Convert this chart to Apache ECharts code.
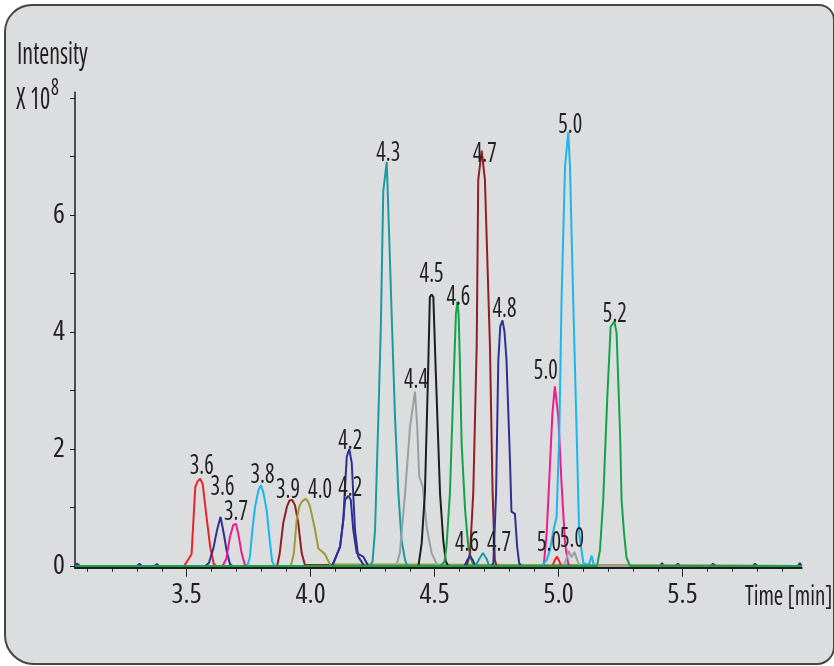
<!DOCTYPE html>
<html>
<head>
<meta charset="utf-8">
<script src="https://cdn.jsdelivr.net/npm/echarts@6/dist/echarts.min.js"></script>
<style>
  html, body { margin: 0; padding: 0; background: #ffffff; }
  #wrap { position: relative; width: 834px; height: 666px; overflow: hidden; }
  #frame {
    position: absolute; left: 4px; top: 4px; width: 831px; height: 661px;
    box-sizing: border-box; border: 2px solid #454545;
    border-radius: 28px 16px 18px 30px; background: #dcdddf;
  }
  #chart { position: absolute; left: 0; top: 0; width: 834px; height: 666px; }
</style>
</head>
<body>
<div id="wrap"><div id="frame"></div><div id="chart"></div></div>
<script>
// Axis ranges: retention time (min) and intensity (x 10^8)
const timeRange = [3.05, 5.98];
const intensityRange = [-0.03, 8.1];
const timeLabels = [3.5, 4.0, 4.5, 5.0, 5.5];
const timeTicks = [3.1, 3.2, 3.3, 3.4, 3.5, 3.6, 3.7, 3.8, 3.9, 4.0, 4.1, 4.2, 4.3, 4.4,
                   4.5, 4.6, 4.7, 4.8, 4.9, 5.0, 5.1, 5.2, 5.3, 5.4, 5.5, 5.6, 5.7, 5.8, 5.9];
const intensityTicks = [0, 1, 2, 3, 4, 5, 6, 7, 8];
const intensityLabels = [0, 2, 4, 6];

// Extracted ion chromatograms, [time, intensity] points
const baselineNoise = [[3.05,0],[3.058,0.04],[3.07,0],[3.30,0],[3.31,0.04],[3.32,0],[3.372,0],[3.38,0.035],[3.388,0],
  [5.41,0],[5.417,0.05],[5.425,0],[5.474,0],[5.481,0.04],[5.488,0],[5.612,0],[5.623,0.035],[5.634,0],
  [5.785,0],[5.792,0.04],[5.8,0],[5.965,0],[5.973,0.05],[5.98,0]];
const trace36a = [[3.49,0],[3.52,0.2],[3.535,1.35],[3.545,1.45],[3.555,1.49],[3.565,1.40],[3.58,0.85],[3.595,0.33],[3.61,0.03],[3.62,0]];
const trace36b = [[3.575,0],[3.59,0.05],[3.608,0.3],[3.622,0.6],[3.637,0.84],[3.65,0.55],[3.662,0.25],[3.675,0.03],[3.685,0]];
const trace37 = [[3.645,0],[3.66,0.12],[3.675,0.5],[3.688,0.70],[3.699,0.72],[3.708,0.56],[3.722,0.22],[3.735,0.02],[3.745,0]];
const trace38 = [[3.745,0],[3.755,0.15],[3.765,0.6],[3.776,1.01],[3.79,1.3],[3.80,1.38],[3.81,1.25],[3.823,0.95],[3.835,0.45],[3.845,0.08],[3.855,0]];
const trace39 = [[3.865,0],[3.875,0.2],[3.89,0.74],[3.905,1.02],[3.915,1.12],[3.925,1.13],[3.937,1.04],[3.95,0.74],[3.964,0.22],[3.977,0.02],[3.985,0]];
const trace40 = [[3.92,0],[3.932,0.2],[3.944,0.79],[3.955,1.02],[3.965,1.10],[3.98,1.15],[3.99,1.1],[3.998,1.01],[4.018,0.62],[4.031,0.30],[4.045,0.25],[4.058,0.2],[4.078,0.03],[4.085,0]];
const trace42a = [[4.085,0],[4.092,0.05],[4.119,0.33],[4.132,0.79],[4.139,1.36],[4.146,1.87],[4.156,2.0],[4.166,1.76],[4.179,0.62],[4.192,0.16],[4.206,0.07],[4.215,0]];
const trace42b = [[4.085,0],[4.092,0.05],[4.119,0.33],[4.132,0.79],[4.139,1.13],[4.152,1.2],[4.162,1.13],[4.172,0.62],[4.186,0.22],[4.212,0.16],[4.233,0]];
const trace43 = [[4.24,0],[4.25,0.08],[4.26,0.62],[4.273,2.5],[4.283,4.03],[4.293,6.4],[4.307,6.91],[4.318,5.5],[4.329,4.03],[4.34,2.6],[4.354,1.24],[4.367,0.44],[4.381,0.1],[4.39,0]];
const trace44 = [[4.345,0],[4.36,0.22],[4.381,1.24],[4.401,2.38],[4.421,2.98],[4.43,2.38],[4.438,1.53],[4.452,1.36],[4.468,0.67],[4.488,0.22],[4.508,0.04],[4.52,0]];
const trace45 = [[4.435,0],[4.448,0.39],[4.461,1.25],[4.472,3.0],[4.481,4.6],[4.488,4.64],[4.495,4.6],[4.505,3.3],[4.522,1.24],[4.535,0.44],[4.545,0.08],[4.555,0]];
const trace46 = [[4.525,0],[4.54,0.08],[4.548,0.33],[4.555,0.35],[4.562,1.25],[4.575,2.95],[4.586,4.3],[4.592,4.52],[4.597,4.3],[4.602,3.5],[4.609,2.1],[4.623,0.96],[4.636,0.33],[4.65,0.08],[4.66,0]];
const trace47 = [[4.63,0],[4.643,0.22],[4.656,1.25],[4.67,3.8],[4.676,6.6],[4.69,7.10],[4.703,6.6],[4.723,3.8],[4.734,1.25],[4.743,0.1],[4.75,0]];
const trace48 = [[4.73,0],[4.737,0.05],[4.748,1.25],[4.757,3.52],[4.765,4.1],[4.774,4.2],[4.782,4.0],[4.79,3.52],[4.804,1.81],[4.81,0.93],[4.824,0.89],[4.833,0.33],[4.841,0.05],[4.85,0]];
const trace50a = [[4.94,0],[4.952,0.56],[4.965,1.7],[4.975,2.6],[4.985,3.07],[4.999,2.55],[5.012,1.41],[5.026,0.39],[5.039,0.03],[5.05,0]];
const trace50b = [[4.93,0],[4.952,0.1],[4.965,0.27],[4.979,0.6],[4.992,0.84],[5.003,2.27],[5.012,4.55],[5.026,6.83],[5.039,7.42],[5.046,6.83],[5.059,4.55],[5.073,2.27],[5.083,0.56],[5.1,0.05],[5.115,0.02],[5.125,0.05],[5.133,0.18],[5.14,0.05],[5.147,0]];
const trace46s = [[4.62,0],[4.632,0.1],[4.643,0.17],[4.654,0.1],[4.665,0]];
const trace47s = [[4.665,0],[4.68,0.12],[4.695,0.22],[4.71,0.12],[4.72,0]];
const trace50c = [[4.975,0],[4.985,0.1],[4.994,0.16],[5.003,0.08],[5.01,0]];
const trace50d = [[5.02,0],[5.032,0.12],[5.04,0.26],[5.052,0.15],[5.064,0.24],[5.075,0.1],[5.085,0]];
const trace52 = [[5.155,0],[5.167,0.27],[5.18,1.13],[5.196,2.84],[5.21,4.09],[5.225,4.18],[5.234,3.98],[5.248,2.27],[5.254,1.13],[5.264,0.56],[5.274,0.14],[5.288,0]];

// Drawing order, colours and where each retention-time label sits relative to its apex (px)
const traces = [
  { data: trace36a, color: '#ec2227', label: [1.5, -13] },
  { data: trace36b, color: '#2e3192', label: [2, -30] },
  { data: trace37,  color: '#ec1c8c', label: [0, -12] },
  { data: trace38,  color: '#1cb5ec', label: [1.5, -10] },
  { data: trace39,  color: '#8f1f22', label: [-4, -10] },
  { data: trace40,  color: '#9c9b32', label: [14.5, -9] },
  { data: trace42a, color: '#2e3192', label: [1, -8] },
  { data: trace42b, color: '#2e3192', label: [2, -8] },
  { data: trace43,  color: '#1a9aa2', label: [1.5, -9] },
  { data: trace44,  color: '#9b9fa3', label: [1, -12] },
  { data: trace45,  color: '#1e1e1e', label: [0, -21] },
  { data: trace46,  color: '#14a24a', label: [1, -5] },
  { data: trace47,  color: '#8f1f22', label: [3, 3] },
  { data: trace48,  color: '#2e3192', label: [2, -11] },
  { data: trace50a, color: '#ec1c8c', label: [-9, -15] },
  { data: trace50b, color: '#1cb5ec', label: [2, -7] },
  { data: trace46s, color: '#2e3192', label: [-3, -13] },
  { data: trace47s, color: '#1a9aa2', label: [16, -10] },
  { data: trace50c, color: '#ec2227', label: [-8, -13.5] },
  { data: trace50d, color: '#9b9fa3', label: [3.5, -12] },
  { data: trace52,  color: '#14a24a', label: [0.5, -7.5] }
];

const FAMILY = "'Open Sans', 'Roboto Condensed', sans-serif";
const TEXT = '#231f20';
const condensed = size => `condensed 500 ${size}px ${FAMILY}`;

// each trace runs along the baseline across the whole time window
const fullRun = d => [[timeRange[0], 0], ...d, [timeRange[1], 0]];
const apex = d => d.reduce((m, p) => (p[1] > m[1] ? p : m), d[0]);

const lineSeries = [{ data: baselineNoise, color: '#2e3192' }]
  .concat(traces.map(t => ({ data: fullRun(t.data), color: t.color })))
  .map(t => ({
    type: 'line',
    xAxisIndex: 0, yAxisIndex: 0,
    data: t.data,
    showSymbol: false, symbol: 'none', smooth: false,
    lineStyle: { color: t.color, width: 2 },
    silent: true
  }));

const labelSeries = {
  type: 'custom',
  xAxisIndex: 0, yAxisIndex: 0,
  data: traces.map(t => apex(t.data)),
  encode: { x: 0, y: 1 },
  z: 10, silent: true,
  renderItem(params, api) {
    const p = api.coord([api.value(0), api.value(1)]);
    const off = traces[params.dataIndex].label;
    return {
      type: 'text',
      x: p[0] + off[0], y: p[1] + off[1],
      scaleX: 0.8,
      style: {
        text: api.value(0).toFixed(1),
        font: condensed(28),
        fill: TEXT, align: 'center', verticalAlign: 'middle'
      }
    };
  }
};

const axisFont = { fontFamily: FAMILY, fontWeight: 'condensed 500', fontSize: 28, color: TEXT };

const chart = echarts.init(document.getElementById('chart'), null, { renderer: 'canvas' });
chart.setOption({
  animation: false,
  backgroundColor: 'transparent',
  grid: { left: 75, right: 32.4, top: 92.2, bottom: 98.3, containLabel: false },
  xAxis: [
    {
      type: 'value', min: timeRange[0], max: timeRange[1],
      axisLine: { show: true, onZero: false, lineStyle: { color: '#1e1e1e', width: 2 } },
      axisTick: { show: true, customValues: timeLabels, length: 9, lineStyle: { color: '#1e1e1e', width: 1 } },
      axisLabel: Object.assign({ show: true, customValues: timeLabels, formatter: v => v.toFixed(1), margin: 13 }, axisFont),
      splitLine: { show: false }
    },
    {
      type: 'value', position: 'bottom', min: timeRange[0], max: timeRange[1],
      axisLine: { show: false, onZero: false },
      axisTick: { show: true, customValues: timeTicks, length: 4, lineStyle: { color: '#1e1e1e', width: 1 } },
      axisLabel: { show: false },
      splitLine: { show: false }
    }
  ],
  yAxis: {
    type: 'value', min: intensityRange[0], max: intensityRange[1],
    axisLine: { show: true, onZero: false, lineStyle: { color: '#1e1e1e', width: 1.5 } },
    axisTick: { show: true, customValues: intensityTicks, length: 5, lineStyle: { color: '#1e1e1e', width: 1 } },
    axisLabel: Object.assign({ show: true, customValues: intensityLabels, margin: 10 }, axisFont),
    splitLine: { show: false }
  },
  graphic: [
    { type: 'text', x: 17, y: 55, scaleX: 0.8,
      style: { text: 'Intensity', font: condensed(30), fill: TEXT, verticalAlign: 'middle' } },
    { type: 'text', x: 16, y: 100, scaleX: 0.8,
      style: { text: 'X 10', font: condensed(30), fill: TEXT, verticalAlign: 'middle' } },
    { type: 'text', x: 51, y: 88, scaleX: 0.8,
      style: { text: '8', font: condensed(23), fill: TEXT, verticalAlign: 'middle' } },
    { type: 'text', x: 745, y: 597, scaleX: 0.82,
      style: { text: 'Time [min]', font: condensed(28), fill: TEXT, verticalAlign: 'middle' } }
  ],
  series: lineSeries.concat([labelSeries])
});
</script>
</body>
</html>
